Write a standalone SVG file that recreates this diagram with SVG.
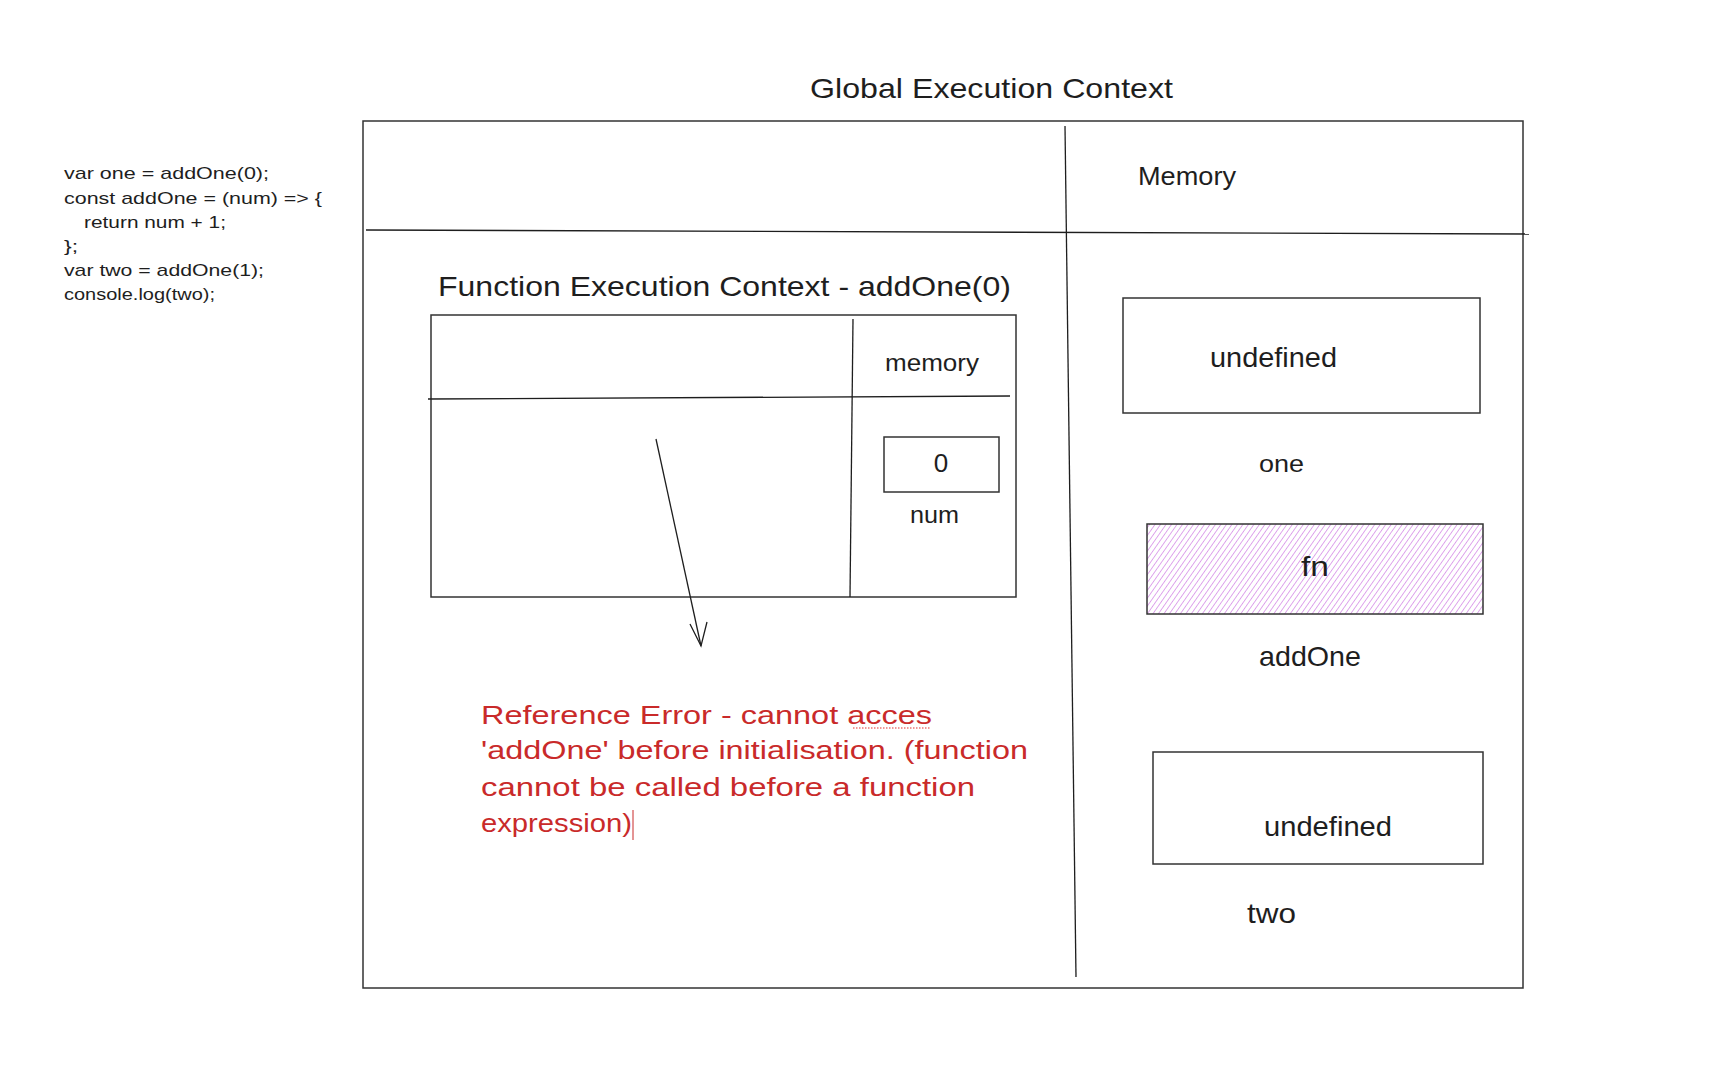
<svg xmlns="http://www.w3.org/2000/svg" width="1716" height="1082" viewBox="0 0 1716 1082">
<style>
text{font-family:"Liberation Sans","Noto Sans",sans-serif;fill:#1e1e1e}
.box{fill:none;stroke:#333;stroke-width:1.5}
.ln{fill:none;stroke:#1e1e1e;stroke-width:1.3}
.t28{font-size:28px}
.t26{font-size:26px}
.t24{font-size:24px}
.code{font-size:17px}
.red{fill:#c92a2a;font-size:26px}
.mid{text-anchor:middle}
</style>
<defs>
<pattern id="hatch" patternUnits="userSpaceOnUse" width="4.5" height="4.5" patternTransform="rotate(35)">
<rect width="4.5" height="4.5" fill="#fff"/>
<line x1="0" y1="0" x2="0" y2="4.5" stroke="#be4bdb" stroke-width="1.6" stroke-opacity="0.6"/>
</pattern>
</defs>
<rect width="1716" height="1082" fill="#fff"/>

<g id="code">
<text class="code" x="64" y="179" textLength="205" lengthAdjust="spacingAndGlyphs">var one = addOne(0);</text>
<text class="code" x="64" y="204" textLength="258" lengthAdjust="spacingAndGlyphs">const addOne = (num) =&gt; {</text>
<text class="code" x="84" y="228" textLength="142" lengthAdjust="spacingAndGlyphs">return num + 1;</text>
<text class="code" x="64" y="252" textLength="14" lengthAdjust="spacingAndGlyphs">};</text>
<text class="code" x="64" y="276" textLength="200" lengthAdjust="spacingAndGlyphs">var two = addOne(1);</text>
<text class="code" x="64" y="300" textLength="151" lengthAdjust="spacingAndGlyphs">console.log(two);</text>
</g>

<g id="global-context">
<text class="t28" x="810" y="98" textLength="363" lengthAdjust="spacingAndGlyphs">Global Execution Context</text>
<rect class="box" x="363" y="121" width="1160" height="867"/>
<path class="ln" d="M1065 126 L1076 977"/>
<path class="ln" d="M366 230 L1529 234"/>
<text class="t26" x="1138" y="185" textLength="98" lengthAdjust="spacingAndGlyphs">Memory</text>
</g>

<g id="function-context">
<text class="t28" x="438" y="296" textLength="573" lengthAdjust="spacingAndGlyphs">Function Execution Context - addOne(0)</text>
<rect class="box" x="431" y="315" width="585" height="282"/>
<path class="ln" d="M853 319 L850 597"/>
<path class="ln" d="M428 399 L1010 396"/>
<text class="t24" x="885" y="371" textLength="94" lengthAdjust="spacingAndGlyphs">memory</text>
</g>

<g id="num-var">
<rect class="box" x="884" y="437" width="115" height="55"/>
<text class="t26 mid" x="941" y="472">0</text>
<text class="t24" x="910" y="523" textLength="49" lengthAdjust="spacingAndGlyphs">num</text>
</g>

<g id="one-var">
<rect class="box" x="1123" y="298" width="357" height="115"/>
<text class="t28" x="1210" y="367" textLength="127" lengthAdjust="spacingAndGlyphs">undefined</text>
<text class="t24" x="1259" y="472" textLength="45" lengthAdjust="spacingAndGlyphs">one</text>
</g>

<g id="addOne-var">
<rect x="1147" y="524" width="336" height="90" fill="url(#hatch)" stroke="#333" stroke-width="1.5"/>
<text class="t28" x="1301" y="576" textLength="28" lengthAdjust="spacingAndGlyphs">fn</text>
<text class="t28" x="1259" y="666" textLength="102" lengthAdjust="spacingAndGlyphs">addOne</text>
</g>

<g id="two-var">
<rect class="box" x="1153" y="752" width="330" height="112"/>
<text class="t28" x="1264" y="836" textLength="128" lengthAdjust="spacingAndGlyphs">undefined</text>
<text class="t28" x="1247" y="923" textLength="49" lengthAdjust="spacingAndGlyphs">two</text>
</g>

<g id="connectors">
<path class="ln" d="M656 439 L701 646"/>
<path class="ln" d="M690 624 L701 646 L707 622"/>
</g>

<g id="error-note">
<text class="red" x="481" y="724" textLength="451" lengthAdjust="spacingAndGlyphs">Reference Error - cannot acces</text>
<text class="red" x="481" y="759" textLength="547" lengthAdjust="spacingAndGlyphs">'addOne' before initialisation. (function</text>
<text class="red" x="481" y="796" textLength="494" lengthAdjust="spacingAndGlyphs">cannot be called before a function</text>
<text class="red" x="481" y="832" textLength="151" lengthAdjust="spacingAndGlyphs">expression)</text>
<path d="M853 728 L931 728" stroke="#e03131" stroke-width="1.2" stroke-dasharray="1.5 1.5" fill="none"/>
<path d="M633 810 L633 840" stroke="#c92a2a" stroke-width="1" fill="none"/>
</g>
</svg>
